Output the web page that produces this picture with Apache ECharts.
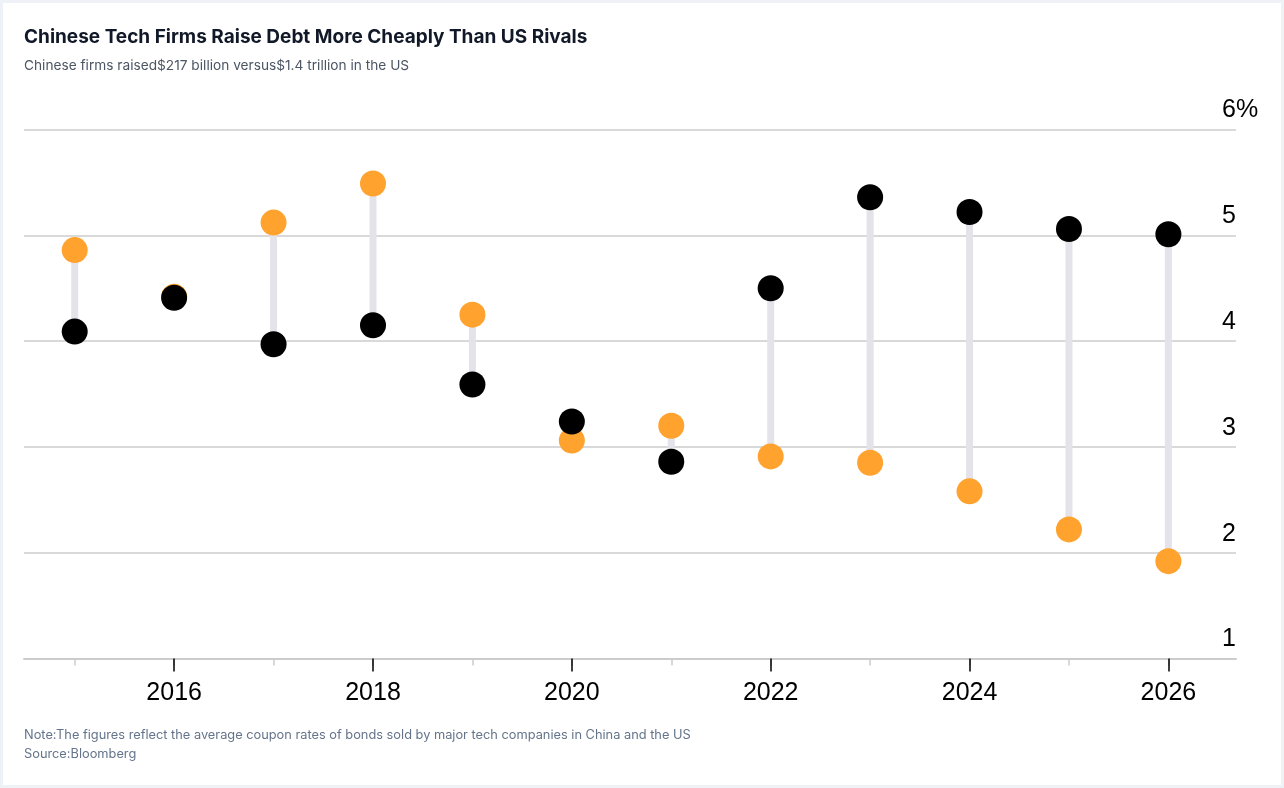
<!DOCTYPE html>
<html>
<head>
<meta charset="utf-8">
<title>Chinese Tech Firms Raise Debt More Cheaply Than US Rivals</title>
<script src="https://cdn.jsdelivr.net/npm/echarts@6/dist/echarts.min.js"></script>
<style>
  html, body { margin: 0; padding: 0; }
  #frame {
    position: absolute; left: 0; top: 0; width: 1284px; height: 788px;
    box-sizing: border-box; border: 3px solid #eef2f6; background: #fff;
  }
  #chart { position: absolute; left: 0; top: 0; width: 1284px; height: 788px; }
</style>
</head>
<body>
<div id="frame"></div>
<div id="chart"></div>
<script>
// coupon rates, %
var years = [2015, 2016, 2017, 2018, 2019, 2020, 2021, 2022, 2023, 2024, 2025, 2026];
var chinaRates = [4.86, 4.42, 5.12, 5.49, 4.25, 3.06, 3.20, 2.91, 2.85, 2.58, 2.22, 1.92];
var usRates = [4.09, 4.41, 3.97, 4.15, 3.59, 3.24, 2.86, 4.50, 5.36, 5.22, 5.06, 5.01];
var yTicks = [1, 2, 3, 4, 5, 6];
var labelYears = [2016, 2018, 2020, 2022, 2024, 2026];

var chartDom = document.getElementById('chart');
var myChart = echarts.init(chartDom, null, { renderer: 'canvas' });

var ORANGE = '#ffa22e';
var BLACK = '#000000';

var gapData = years.map(function (y, i) {
  return [y, chinaRates[i], usRates[i]];
});
var chinaData = years.map(function (y, i) { return [y, chinaRates[i]]; });
var usData = years.map(function (y, i) { return [y, usRates[i]]; });

var xMin = 2014.49;
var xMax = 2026.68;

var option = {
  animation: false,
  title: [
    {
      text: 'Chinese Tech Firms Raise Debt More Cheaply Than US Rivals',
      left: 24, top: 28, padding: 0,
      textStyle: { fontFamily: 'Inter', fontSize: 19, fontWeight: 'bold', color: '#111827' }
    },
    {
      text: 'Chinese firms raised$217 billion versus$1.4 trillion in the US',
      left: 24, top: 59, padding: 0,
      textStyle: { fontFamily: 'Inter', fontSize: 13.7, fontWeight: 'normal', color: '#4b5563' }
    },
    {
      text: 'Note:The figures reflect the average coupon rates of bonds sold by major tech companies in China and the US\nSource:Bloomberg',
      left: 24, top: 726, padding: 0,
      textStyle: { fontFamily: 'Inter', fontSize: 12.8, fontWeight: 'normal', color: '#64748b', lineHeight: 19 }
    }
  ],
  grid: { left: 24, right: 48, top: 129.5, bottom: 129.5 },
  xAxis: [
    {
      type: 'value', min: xMin, max: xMax,
      axisLine: { show: true, lineStyle: { color: '#cccccc', width: 2 } },
      axisTick: { show: true, length: 7, customValues: years, lineStyle: { color: '#cccccc', width: 1.5 } },
      axisLabel: { show: false },
      splitLine: { show: false }
    },
    {
      type: 'value', min: xMin, max: xMax, position: 'bottom',
      axisLine: { show: false },
      axisTick: { show: true, length: 13, customValues: labelYears, lineStyle: { color: '#000000', width: 1.5 } },
      axisLabel: {
        show: true, customValues: labelYears, margin: 22,
        fontFamily: 'Liberation Sans', fontSize: 25, color: '#000000',
        formatter: function (v) { return String(v); }
      },
      splitLine: { show: false }
    }
  ],
  yAxis: {
    type: 'value', position: 'right', min: 1, max: 6, interval: 1,
    axisLine: { show: false },
    axisTick: { show: false },
    splitLine: { show: true, lineStyle: { color: '#cccccc', width: 1.5 } },
    axisLabel: {
      show: true, customValues: yTicks, margin: -14, align: 'left', verticalAlign: 'bottom',
      lineHeight: 26, padding: [0, 0, 6, 0],
      fontFamily: 'Liberation Sans', fontSize: 25, color: '#000000',
      formatter: function (v) { return v === 6 ? '6%' : String(v); }
    }
  },
  series: [
    {
      name: 'gap',
      type: 'custom',
      xAxisIndex: 0,
      data: gapData,
      encode: { x: 0, y: [1, 2] },
      renderItem: function (params, api) {
        var top = api.coord([api.value(0), api.value(1)]);
        var bottom = api.coord([api.value(0), api.value(2)]);
        return {
          type: 'line',
          shape: { x1: top[0], y1: top[1], x2: bottom[0], y2: bottom[1] },
          style: { stroke: '#e4e3ea', lineWidth: 7 }
        };
      },
      z: 2
    },
    {
      name: 'China',
      type: 'scatter',
      xAxisIndex: 0,
      data: chinaData,
      symbolSize: 26,
      itemStyle: { color: ORANGE, opacity: 1 },
      z: 3
    },
    {
      name: 'US',
      type: 'scatter',
      xAxisIndex: 0,
      data: usData,
      symbolSize: 26,
      itemStyle: { color: BLACK, opacity: 1 },
      z: 4
    }
  ]
};

myChart.setOption(option);
</script>
</body>
</html>
